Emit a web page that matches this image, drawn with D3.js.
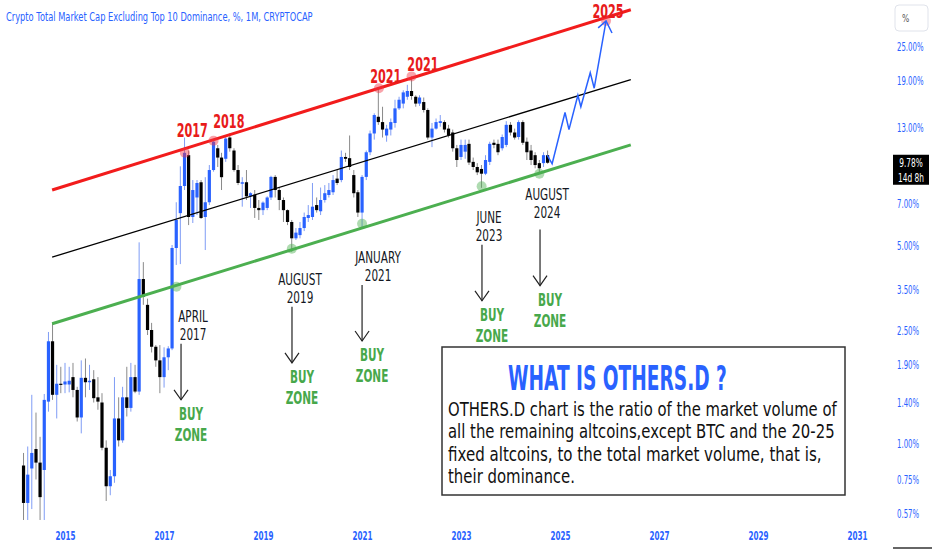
<!DOCTYPE html>
<html><head><meta charset="utf-8">
<script src="https://cdn.jsdelivr.net/npm/d3@7"></script>
<style>
html,body{margin:0;padding:0;background:#fff;}
svg{display:block;font-family:"DejaVu Sans",sans-serif;}
</style></head><body>
<svg id="c" width="932" height="550"></svg>
<script>
// ---------- DATA ----------
const chartTitle = "Crypto Total Market Cap Excluding Top 10 Dominance, %, 1M, CRYPTOCAP";
const firstMonth = [2014, 3]; // March 2014, monthly candles
const open = [0.84,0.62,0.82,0.96,0.86,0.81,1.41,2.30,1.49,1.63,
1.62,1.62,1.72,1.55,1.24,1.71,1.65,1.69,1.46,1.40,
0.97,0.71,0.77,1.23,1.03,1.46,1.34,1.72,1.53,3.81,
3.09,2.52,2.20,1.97,1.72,2.02,2.17,4.90,6.50,8.10,
10.4,6.30,7.38,8.35,6.30,7.10,9.22,11.0,10.2,10.1,
12.0,10.8,9.22,8.25,8.35,7.45,7.55,6.78,6.66,6.78,
7.38,8.72,7.84,7.23,6.66,6.05,5.30,5.44,5.76,6.25,
6.30,6.94,6.60,7.23,7.53,7.70,8.60,8.50,10.25,10.15,
8.85,7.70,6.53,8.72,10.65,12.4,14.2,13.6,12.2,12.8,
13.5,15.2,15.8,16.7,17.5,16.7,15.8,16.0,15.0,12.0,
12.9,13.5,13.6,12.9,12.5,11.0,10.25,10.7,11.4,9.85,
9.45,9.3,8.95,9.85,11.5,11.4,11.0,11.3,13.3,12.5,
12.05,13.6,11.6,10.8,10.4,9.75,9.75,10.4];
const high = [0.93,0.98,1.49,1.29,1.06,1.50,2.48,2.67,1.90,1.87,
1.93,1.87,1.93,1.59,1.97,2.00,1.90,1.82,1.72,1.51,
1.03,0.81,1.72,1.46,1.59,1.87,1.93,1.90,5.13,4.37,
3.25,2.67,2.23,2.23,2.19,2.21,5.02,7.10,9.50,12.0,
10.8,8.50,8.50,8.50,8.70,9.60,11.8,11.3,10.6,12.05,
12.4,11.0,9.60,8.70,9.22,7.70,7.84,7.23,7.15,7.45,
8.80,8.85,8.00,7.38,6.70,6.15,5.76,6.05,6.53,6.94,
8.30,7.38,8.00,8.16,8.30,8.85,9.22,10.8,10.6,12.2,
9.22,7.84,8.85,10.8,12.7,14.6,17.9,15.4,13.3,14.0,
16.3,16.7,17.6,18.4,19.7,16.9,16.9,16.6,15.2,13.5,
14.0,14.4,13.8,13.3,12.8,11.3,11.8,11.8,11.8,10.2,
9.75,9.6,10.4,11.6,11.8,11.8,12.3,13.7,13.6,12.9,
13.8,13.8,12.0,11.3,10.65,10.0,10.65,10.8];
const low = [0.54,0.54,0.59,0.75,0.54,0.54,1.30,1.43,1.23,1.51,
1.51,1.52,1.46,1.20,1.09,1.46,1.55,1.40,1.32,0.95,
0.63,0.66,0.73,0.98,1.01,1.25,1.30,1.51,1.49,3.09,
2.42,2.10,1.87,1.51,1.58,1.82,2.14,4.27,4.30,7.84,
5.90,6.00,6.40,6.20,4.82,6.94,9.10,9.45,7.84,9.85,
10.7,9.10,8.16,6.85,7.23,6.78,6.25,6.15,6.40,6.66,
7.23,7.38,6.66,6.05,5.90,4.75,5.23,5.30,5.62,6.05,
6.15,6.53,6.40,7.08,7.38,7.53,8.16,8.35,9.85,9.22,
7.38,6.30,5.80,8.50,10.4,11.8,13.3,12.0,11.6,12.2,
13.0,15.0,15.2,16.3,16.3,15.4,15.5,14.7,11.8,11.1,
12.8,13.1,12.5,12.0,10.7,9.45,10.0,10.1,9.6,9.22,
8.85,7.98,8.85,9.6,11.0,10.4,10.8,11.1,12.2,11.8,
11.8,11.3,10.0,9.6,9.35,8.95,9.45,9.7];
const close = [0.62,0.78,0.93,0.86,0.65,1.43,2.30,1.49,1.63,1.62,
1.66,1.67,1.55,1.24,1.71,1.65,1.67,1.45,1.41,0.97,
0.71,0.77,1.23,1.03,1.46,1.34,1.72,1.53,3.81,3.30,
2.52,2.20,1.97,1.72,2.02,2.17,4.90,6.15,8.10,10.6,
6.30,7.84,8.30,6.25,7.10,9.22,11.6,10.2,8.70,11.9,
11.0,9.22,8.30,8.35,7.45,7.64,6.78,6.66,7.08,7.38,
8.72,7.84,7.23,6.66,6.05,5.30,5.55,5.76,6.30,6.40,
6.85,6.66,7.23,7.64,7.84,8.50,8.30,10.25,10.1,9.45,
7.64,6.53,8.72,10.65,12.4,14.4,13.6,12.8,12.9,13.6,
15.2,16.3,17.3,17.5,16.8,15.8,16.6,15.0,12.0,12.9,
13.6,13.7,12.8,12.2,11.0,10.0,11.3,11.3,9.8,9.45,
9.05,8.95,10.0,11.4,11.3,10.65,12.05,13.3,12.5,12.0,
13.6,11.5,10.65,10.0,9.6,9.35,10.4,9.78];

const yearTicks = [2015,2017,2019,2021,2023,2025,2027,2029,2031];
const priceTicks = [25,19,13,7,5,3.5,2.5,1.9,1.4,1.0,0.75,0.57];
const lastPrice = 9.78;
const countdown = "14d 8h";

// channel lines: [decimal year, value] endpoints
const upperLine = [[2014.74, 7.84], [2026.43, 33.8]];
const midLine   = [[2014.74, 4.55], [2026.43, 19.2]];
const lowerLine = [[2014.74, 2.65], [2026.43, 11.3]];

const topTouches = [[2017.42,10.6],[2018.0,11.7],[2021.34,17.9],[2022.0,19.7],[2025.93,30.9]];
const bottomTouches = [[2017.25,3.58],[2019.583,4.87],[2021.0,5.96],[2023.417,8.08],[2024.583,8.95]];
const topLabels = [["2017",2017.57,12.05],["2018",2018.31,13.0],["2021",2021.48,18.7],["2021",2022.23,20.6],["2025",2025.97,31.7]];

const projection = [[2024.74,10.4],[2024.84,9.7],[2025.10,14.7],[2025.18,12.8],[2025.36,16.9],[2025.42,15.4],[2025.61,20.3],[2025.69,17.9],[2025.93,30.9]];
const projectionHead = [[2025.77,29.2],[2025.93,30.9],[2026.05,28.0]];

const buyZones = [
  {lines:["APRIL","2017"], date:2017.343, value:2.29, tdx:12, tdy:0},
  {lines:["AUGUST","2019"], date:2019.586, value:3.09, tdx:8, tdy:0},
  {lines:["JANUARY","2021"], date:2021.0, value:3.69, tdx:16, tdy:0},
  {lines:["JUNE","2023"], date:2023.424, value:5.11, tdx:7, tdy:0},
  {lines:["AUGUST","2024"], date:2024.596, value:5.78, tdx:7, tdy:-8}
];
const zoneWords = ["BUY","ZONE"];

const boxTitle = "WHAT IS OTHERS.D ?";
const boxLines = ["OTHERS.D chart is the ratio of the market volume of",
  "all the remaining altcoins,except BTC and the 20-25",
  "fixed altcoins, to the total market volume, that is,",
  "their dominance."];

// ---------- SCALES ----------
const svg = d3.select("#c");
const x = d3.scaleTime().domain([new Date(2015,0,1), new Date(2031,0,1)]).range([65, 857]);
const y = d3.scaleLog().domain([1, 25]).range([444, 47]);
function yd(dy){ const yr=Math.floor(dy); const s=new Date(yr,0,1), e=new Date(yr+1,0,1); return new Date(+s + (dy-yr)*(e-s)); }
const px = p => x(yd(p[0]));
const py = p => y(p[1]);

const BLUE="#2962ff", RED="#f21c1c", GREEN="#47a84b", INK="#131722";

function label(g, str, X, Y, o){
  return g.append("text")
    .attr("transform", `translate(${X},${Y}) scale(${o.k||0.62},1)`)
    .attr("text-anchor", o.anchor||"middle")
    .attr("font-size", o.size||12)
    .attr("font-weight", o.weight||"normal")
    .attr("fill", o.fill||INK)
    .text(str);
}
// text squeezed horizontally to a given width (start-anchored)
function fitText(g, str, X, Y, width, o){
  const t = g.append("text").attr("font-size",o.size).attr("font-weight",o.weight||"normal")
    .attr("fill",o.fill||INK).text(str);
  const k = width / t.node().getComputedTextLength();
  t.attr("transform",`translate(${X},${Y}) scale(${k},1)`);
  return t;
}

// title
fitText(svg, chartTitle, 6, 21, 307, {size:12, fill:BLUE});

// ---------- CANDLES ----------
const start = new Date(firstMonth[0], firstMonth[1]-1, 1);
const candles = open.map((o,i)=>({d:d3.timeMonth.offset(start,i), o, h:Math.max(high[i],o,close[i]), l:Math.min(low[i],o,close[i]), c:close[i]}));
const cg = svg.append("g");
cg.selectAll("line.w").data(candles).join("line")
  .attr("x1",d=>x(d.d)).attr("x2",d=>x(d.d))
  .attr("y1",d=>y(d.h)).attr("y2",d=>y(d.l))
  .attr("stroke",d=>d.c>=d.o?"#7f9cf5":"#8a8a8a").attr("stroke-width",1);
cg.selectAll("rect").data(candles).join("rect")
  .attr("x",d=>x(d.d)-1.6).attr("width",3.2)
  .attr("y",d=>y(Math.max(d.o,d.c)))
  .attr("height",d=>Math.max(1.2, Math.abs(y(d.o)-y(d.c))))
  .attr("fill",d=>d.c>=d.o?BLUE:"#000");

// ---------- CHANNEL ----------
const lineGen = d3.line().x(px).y(py);
svg.append("path").attr("d",lineGen(midLine)).attr("stroke","#000").attr("stroke-width",1.3).attr("fill","none");
svg.append("path").attr("d",lineGen(lowerLine)).attr("stroke","#4caf50").attr("stroke-width",3).attr("fill","none");
svg.append("path").attr("d",lineGen(upperLine)).attr("stroke",RED).attr("stroke-width",3).attr("fill","none");

svg.selectAll("circle.t").data(topTouches).join("circle")
  .attr("cx",px).attr("cy",py).attr("r",5).attr("fill","rgba(242,54,69,0.45)");
svg.selectAll("circle.b").data(bottomTouches).join("circle")
  .attr("cx",px).attr("cy",py).attr("r",5).attr("fill","rgba(76,175,80,0.45)");

topLabels.forEach(t=>label(svg, t[0], x(yd(t[1])), y(t[2]), {size:20, k:0.56, weight:"bold", fill:"#e81b1b"}));

// projection
svg.append("path").attr("d",lineGen(projection)).attr("stroke",BLUE).attr("stroke-width",1.5).attr("fill","none");
svg.append("path").attr("d",lineGen(projectionHead)).attr("stroke",BLUE).attr("stroke-width",1.5).attr("fill","none");

// ---------- BUY ZONES ----------
buyZones.forEach(b=>{
  const ax = x(yd(b.date)), ay = y(b.value);
  label(svg, b.lines[0], ax+b.tdx, ay-19.5+b.tdy, {size:15.4, k:0.68});
  label(svg, b.lines[1], ax+b.tdx, ay-1.5+b.tdy, {size:15.4, k:0.68});
  svg.append("line").attr("x1",ax).attr("x2",ax).attr("y1",ay+2).attr("y2",ay+58).attr("stroke","#222").attr("stroke-width",1.2);
  svg.append("path").attr("d",`M${ax-7},${ay+48}L${ax},${ay+58}L${ax+7},${ay+48}`).attr("stroke","#222").attr("stroke-width",1.2).attr("fill","none");
  label(svg, zoneWords[0], ax+10, ay+78.5, {size:17.5, k:0.6, weight:"bold", fill:GREEN});
  label(svg, zoneWords[1], ax+10, ay+99, {size:17.5, k:0.6, weight:"bold", fill:GREEN});
});

// ---------- INFO BOX ----------
svg.append("rect").attr("x",442).attr("y",347).attr("width",403).attr("height",148)
  .attr("fill","#fff").attr("stroke","#333").attr("stroke-width",1.5);
fitText(svg, boxTitle, 508, 390, 219, {size:33, weight:"bold", fill:BLUE});
const boxWidths = [389,387,374,127];
boxLines.forEach((t,i)=>fitText(svg, t, 448, 416+i*22.4, boxWidths[i], {size:19, fill:"#111"}));

// ---------- AXES ----------
const xa = svg.append("g").attr("transform","translate(0,531)")
  .call(d3.axisBottom(x).tickValues(yearTicks.map(v=>new Date(v,0,1))).tickFormat(d3.timeFormat("%Y")).tickSize(0).tickPadding(0));
xa.select(".domain").remove();
xa.selectAll("text").attr("fill",BLUE).attr("font-size",12).attr("font-weight","bold").attr("font-family","DejaVu Sans").attr("transform","scale(0.6,1)");

const ya = svg.append("g").attr("transform","translate(897,0)")
  .call(d3.axisRight(y).tickValues(priceTicks).tickFormat(d=>d.toFixed(2)+"%").tickSize(0).tickPadding(0));
ya.select(".domain").remove();
ya.selectAll("text").attr("fill",BLUE).attr("font-size",12).attr("font-family","DejaVu Sans").attr("transform","scale(0.58,1)");

// % box
svg.append("rect").attr("x",895).attr("y",5).attr("width",33).attr("height",26).attr("rx",4)
  .attr("fill","#fff").attr("stroke","#e0e3eb");
label(svg, "%", 902, 22, {size:11, k:0.7, anchor:"start", fill:"#555"});

// last price label
const yl = y(lastPrice);
svg.append("rect").attr("x",893).attr("y",yl-8).attr("width",36).attr("height",30).attr("fill","#000");
label(svg, lastPrice.toFixed(2)+"%", 911, yl+4.5, {size:12, k:0.62, fill:"#fff"});
label(svg, countdown, 911, yl+19, {size:12, k:0.62, fill:"#fff"});

svg.append("line").attr("x1",893).attr("x2",932).attr("y1",548).attr("y2",548).attr("stroke","#333").attr("stroke-width",1.5);
</script>
</body></html>
